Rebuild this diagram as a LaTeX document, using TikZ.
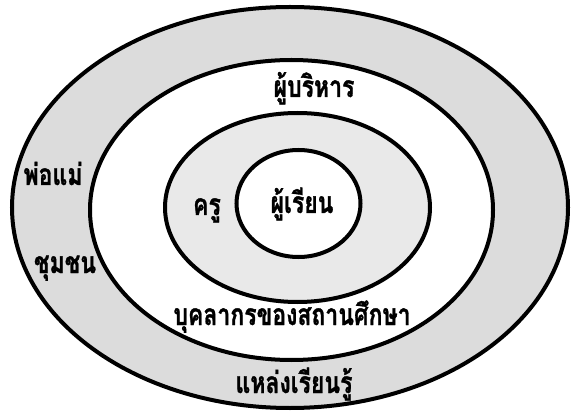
\documentclass[tikz,border=0pt]{standalone}
\usepackage{fontspec}
\newfontfamily\thaifont[Script=Thai,BoldFeatures={FakeBold=1.2}]{Loma}
\usepackage{xcolor}
\definecolor{ringgray}{HTML}{DCDCDC}
\definecolor{ringlight}{HTML}{E9E9E9}

\begin{document}
\begin{tikzpicture}[x=1pt,y=-1pt,line width=4pt,
  lbl/.style={font=\thaifont\bfseries\fontsize{23}{25}\selectfont,inner sep=0pt,anchor=base,yscale=1.3}]
\useasboundingbox (0,0) rectangle (573,414);
\filldraw[fill=ringgray] (290,207.5) ellipse[x radius=278,y radius=200.5];
\filldraw[fill=white] (291.5,210) ellipse[x radius=201.5,y radius=150];
\filldraw[fill=ringlight] (297.5,207.5) ellipse[x radius=132.5,y radius=94.5];
\filldraw[fill=white] (298.5,203.5) ellipse[x radius=62,y radius=53.5];
\node[lbl] (learner) at (302,213) {ผู้เรียน};
\node[lbl] (teacher) at (207,215) {ครู};
\node[lbl] (admin) at (314,97) {ผู้บริหาร};
\node[lbl] (staff) at (292,325) {บุคลากรของสถานศึกษา};
\node[lbl] (parents) at (53,185) {พ่อแม่};
\node[lbl] (community) at (65,273) {ชุมชน};
\node[lbl] (sources) at (294,393) {แหล่งเรียนรู้};
\end{tikzpicture}
\end{document}
